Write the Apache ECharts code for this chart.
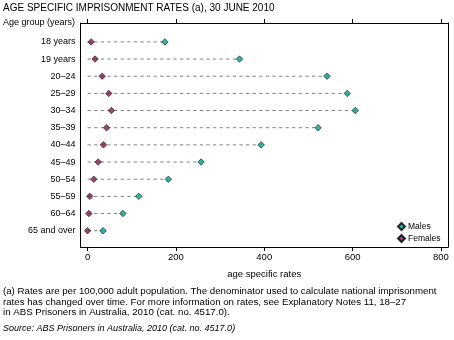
<!DOCTYPE html>
<html><head><meta charset="utf-8">
<script src="https://cdn.jsdelivr.net/npm/echarts@6/dist/echarts.min.js"></script>
<style>html,body{margin:0;padding:0;background:#fff}#c{width:454px;height:340px}</style>
</head><body><div id="c"></div>
<script>
const categories = ['18 years','19 years','20–24','25–29','30–34','35–39','40–44','45–49','50–54','55–59','60–64','65 and over'];
const males   = [175, 344, 542, 588, 606, 522, 393, 257, 183, 116, 80, 35];
const females = [8, 17, 33, 48, 54, 43, 36, 24, 14, 5, 3, 0];
const xTicks = [0, 200, 400, 600, 800];

const FONT = 'Liberation Sans, Arial, sans-serif';
const TEAL = '#00a08c';
const MAROON = '#84184b';
const chart = echarts.init(document.getElementById('c'), null, {renderer:'canvas'});
const idx = categories.map((c,i)=>i);
chart.setOption({
  animation:false,
  backgroundColor:'#fff',
  textStyle:{fontFamily:FONT},
  title:[
    {text:'AGE SPECIFIC IMPRISONMENT RATES (a), 30 JUNE 2010', left:3, top:3, padding:0, textStyle:{fontSize:10, fontWeight:'normal', color:'#000', fontFamily:FONT}},
    {text:'Age group (years)', left:3, top:18, padding:0, textStyle:{fontSize:9, fontWeight:'normal', color:'#000', fontFamily:FONT}},
    {text:'(a) Rates are per 100,000 adult population. The denominator used to calculate national imprisonment\nrates has changed over time. For more information on rates, see Explanatory Notes 11, 18–27\nin ABS Prisoners in Australia, 2010 (cat. no. 4517.0).', left:3, top:286.5, padding:0, textStyle:{fontSize:9.7, lineHeight:10.5, fontWeight:'normal', color:'#000', fontFamily:FONT}},
    {text:'Source: ABS Prisoners in Australia, 2010 (cat. no. 4517.0)', left:3, top:324, padding:0, textStyle:{fontSize:9, fontStyle:'italic', fontWeight:'normal', color:'#000', fontFamily:FONT}}
  ],
  legend:{
    orient:'vertical', left:397, top:222, padding:0, itemWidth:7, itemHeight:7, itemGap:3,
    textStyle:{fontSize:8.5, lineHeight:8, color:'#000', fontFamily:FONT, padding:[0,0,0,-2]},
    data:[{name:'Males', icon:'diamond'},{name:'Females', icon:'diamond'}]
  },
  grid:{left:80.5, right:6, top:23, bottom:93},
  xAxis:[
    {type:'value', position:'bottom', min:-16, max:816,
     axisLine:{show:true, onZero:false, lineStyle:{color:'#000', width:1}},
     axisTick:{show:true, inside:false, length:4, customValues:xTicks, lineStyle:{color:'#000'}},
     axisLabel:{show:true, customValues:xTicks, fontSize:9.5, color:'#000', margin:5, fontFamily:FONT},
     splitLine:{show:false},
     name:'age specific rates', nameLocation:'middle', nameGap:22, nameTextStyle:{fontSize:9.5, color:'#000', fontFamily:FONT}},
    {type:'value', position:'top', min:-16, max:816,
     axisLine:{show:true, onZero:false, lineStyle:{color:'#000', width:1}},
     axisTick:{show:true, inside:false, length:4, customValues:xTicks, lineStyle:{color:'#000'}},
     axisLabel:{show:false}, splitLine:{show:false}}
  ],
  yAxis:[
    {type:'value', inverse:true, min:-1.1, max:11.95, position:'left',
     axisLine:{show:true, onZero:false, lineStyle:{color:'#000', width:1}},
     axisTick:{show:false},
     axisLabel:{show:true, customValues:idx, formatter:v=>categories[Math.round(v)], fontSize:9, color:'#000', margin:5, fontFamily:FONT},
     splitLine:{show:false}},
    {type:'value', inverse:true, min:-1.1, max:11.95, position:'right',
     axisLine:{show:true, onZero:false, lineStyle:{color:'#000', width:1}},
     axisTick:{show:false}, axisLabel:{show:false}, splitLine:{show:false}}
  ],
  series:[
    {type:'custom', xAxisIndex:0, yAxisIndex:0, silent:true,
     data: males.map((v,i)=>[v,i]),
     renderItem:(params, api)=>{
       const s = api.coord([0, api.value(1)]);
       const e = api.coord([api.value(0), api.value(1)]);
       return {type:'line', shape:{x1:s[0], y1:s[1], x2:e[0], y2:e[1]},
         style:{stroke:'#808080', lineWidth:1, lineDash:[3.3,3.3]}};
     }},
    {name:'Males', type:'scatter', xAxisIndex:0, yAxisIndex:0, symbol:'diamond', symbolSize:6.5,
     itemStyle:{color:TEAL, borderColor:'#000', borderWidth:0.7},
     data: males.map((v,i)=>[v,i])},
    {name:'Females', type:'scatter', xAxisIndex:0, yAxisIndex:0, symbol:'diamond', symbolSize:6.5,
     itemStyle:{color:MAROON, borderColor:'#000', borderWidth:0.7},
     data: females.map((v,i)=>[v,i])}
  ]
});
</script></body></html>
